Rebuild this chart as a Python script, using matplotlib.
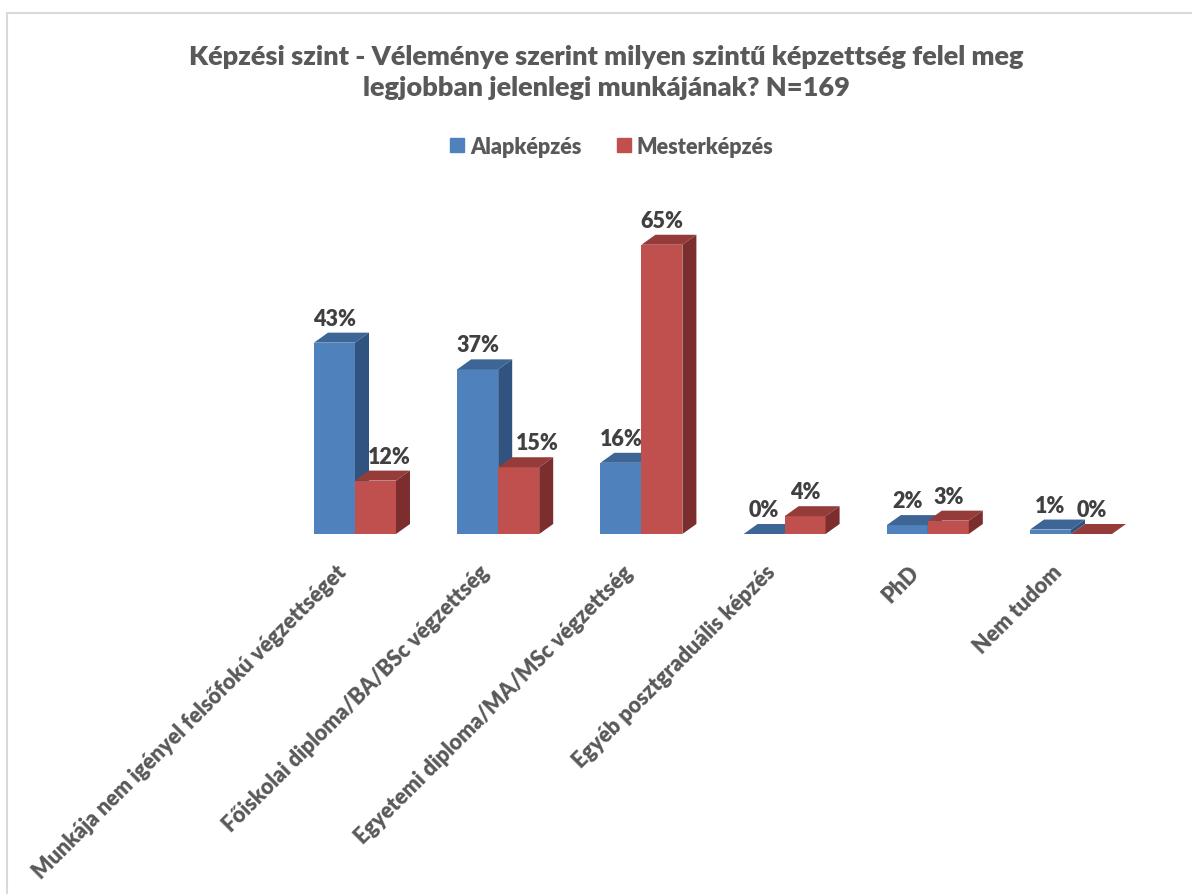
import matplotlib
matplotlib.use("Agg")
import matplotlib.pyplot as plt
from matplotlib.patches import Polygon, Rectangle, Patch

# adatok
categories = ["Munkája nem igényel felsőfokú végzettséget",
              "Főiskolai diploma/BA/BSc végzettség",
              "Egyetemi diploma/MA/MSc végzettség",
              "Egyéb posztgraduális képzés",
              "PhD",
              "Nem tudom"]
alap = [43, 37, 16, 0, 2, 1]
mester = [12, 15, 65, 4, 3, 0]
series_names = ["Alapképzés", "Mesterképzés"]
title_lines = ["Képzési szint - Véleménye szerint milyen szintű képzettség felel meg",
               "legjobban jelenlegi munkájának? N=169"]

# színek (elől, teteje, oldala)
blue = ["#4f81bd", "#3d6595", "#30547f"]
red = ["#c0504d", "#953c3a", "#7b2e2d"]
label_shift = [[0, 0, 0, 0, 0, 0], [14, 19, 0, 0, 0, 0]]  # feliratok vízszintes eltolása (px)

plt.rcParams['font.family'] = ['Lato', 'DejaVu Sans']
plt.rcParams['font.weight'] = 'heavy'

W, H = 1192, 895
fig = plt.figure(figsize=(W / 100, H / 100), dpi=100)
ax = fig.add_axes([283.4 / W, (H - 535) / H, 859.2 / W, 70 * 4.45 / H])
ax.set_xlim(-0.5, 5.5)
ax.set_ylim(0, 70)
ax.axis("off")

# mélység adatkoordinátában (14 px jobbra, 10 px fel)
p0 = ax.transData.transform((0, 0))
p1 = ax.transData.transform((1, 1))
ddx = 14 / (p1[0] - p0[0])
ddy = 10 / (p1[1] - p0[1])
bw = 41 / (p1[0] - p0[0])


def bar3d(x0, v, cols, z):
    x1 = x0 + bw
    ax.bar(x0, v, width=bw, align="edge", color=cols[0], zorder=z, clip_on=False)
    top = [(x0, v), (x1, v), (x1 + ddx, v + ddy), (x0 + ddx, v + ddy)]
    side = [(x1, 0), (x1 + ddx, ddy), (x1 + ddx, v + ddy), (x1, v)]
    ax.add_patch(Polygon(top, closed=True, fc=cols[1], ec="none", zorder=z, clip_on=False))
    ax.add_patch(Polygon(side, closed=True, fc=cols[2], ec="none", zorder=z, clip_on=False))


for i in range(len(categories)):
    bar3d(i - bw, alap[i], blue, 2 + i * 2)
    bar3d(i, mester[i], red, 3 + i * 2)

# adatfeliratok
for s, (vals, xoff) in enumerate([(alap, -bw / 2), (mester, bw / 2)]):
    for i, v in enumerate(vals):
        ax.annotate(f"{v}%", xy=(i + xoff, v + ddy), xytext=(label_shift[s][i], 8),
                    textcoords="offset pixels", ha="center", va="baseline",
                    fontsize=15.5, color="#404040", annotation_clip=False)

# kategória feliratok
for i, c in enumerate(categories):
    ax.annotate(c, xy=(i, 0), xytext=(-5, -27), textcoords="offset pixels",
                rotation=45, ha="right", va="top", fontsize=15.5, color="#595959",
                annotation_clip=False)

# cím
fig.text(606 / W, 1 - 57 / H, title_lines[0], ha="center", va="center", fontsize=19.5, color="#595959")
fig.text(606 / W, 1 - 88 / H, title_lines[1], ha="center", va="center", fontsize=19.5, color="#595959")

# jelmagyarázat
handles = [Patch(color=blue[0]), Patch(color=red[0])]
fig.legend(handles, series_names, loc="center", bbox_to_anchor=(612 / W, 1 - 147 / H), ncol=2,
           frameon=False, handlelength=0.65, handleheight=0.65, handletextpad=0.3,
           columnspacing=1.6, prop={"size": 15.5, "weight": "heavy"}, labelcolor="#595959")

# keret
fig.add_artist(Rectangle((6.5 / W, -0.1), 1.2, 1.1 - 13.5 / H, transform=fig.transFigure,
                         fill=False, ec="#d9d9d9", lw=1.5))

fig.savefig("out.png", dpi=100)
